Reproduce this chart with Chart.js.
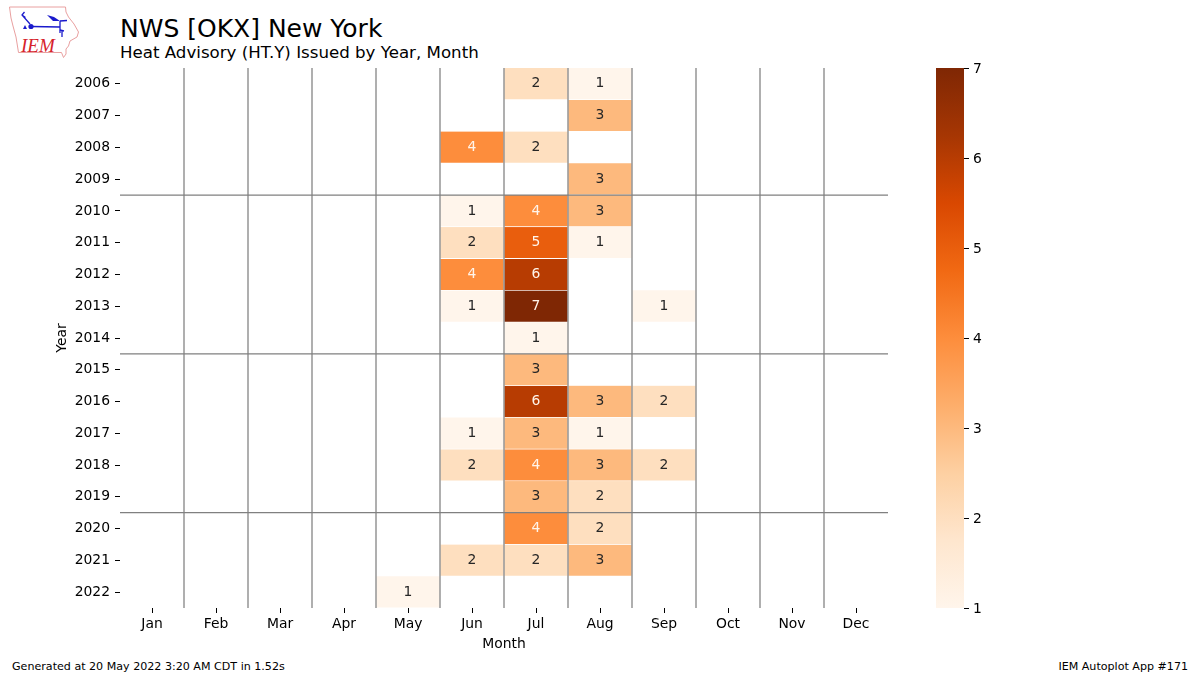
<!DOCTYPE html>
<html>
<head>
<meta charset="utf-8">
<title>Heat Advisory by Year, Month</title>
<script src="https://cdn.jsdelivr.net/npm/chart.js@4/dist/chart.umd.min.js"></script>
<style>
    html, body { margin: 0; padding: 0; background: #fff; }
    body { width: 1200px; height: 675px; overflow: hidden; position: relative; font-family: "DejaVu Sans", sans-serif; }
    canvas { position: absolute; top: 0; }
    .txt { position: absolute; white-space: nowrap; color: #000; line-height: 1; }
    #logo { position: absolute; left: 0; top: 0; }
</style>
</head>
<body>

<svg id="logo" width="90" height="64" viewBox="0 0 90 64">
    <path d="M9.5 7 L65.5 7 L66 12 L68.5 17 L74 24 L78.5 32 L77 37 L70 41 L68.5 46 L66 49 L66 54 L63.5 57.5 L61.5 52.5 L18.5 52.5 L16 37 L13 26 L11 18 Z"
          fill="none" stroke="#e9a0a0" stroke-width="1"/>
    <g stroke="#1a1acc" stroke-width="1.3" fill="none">
        <path d="M31 26.5 L60 27 M60 21 L60 33 M60 21 L67 20.5"/>
        <path d="M30 24 L22 15 L24.5 12 M22 15 L25.5 17.5"/>
        <path d="M60 30 L64 31 M62 30 L62 37"/>
    </g>
    <circle cx="31" cy="26.5" r="2.6" fill="#1a1acc"/>
    <path d="M47 15 L54 17 L60 21 L53 21 Z" fill="#1a1acc"/>
    <path d="M23 29 L25 25 L27 29 Z" fill="#1a1acc"/>
    <text x="21" y="51.5" font-family="Liberation Serif" font-style="italic" font-size="19" fill="#d6222a">IEM</text>
</svg>

<div class="txt" style="left:120px;top:16px;font-size:25px;">NWS [OKX] New York</div>
<div class="txt" style="left:120px;top:45px;font-size:16.65px;">Heat Advisory (HT.Y) Issued by Year, Month</div>
<div class="txt" style="left:12px;top:661px;font-size:11.1px;">Generated at 20 May 2022 3:20 AM CDT in 1.52s</div>
<div class="txt" style="right:12px;top:661px;font-size:11.1px;">IEM Autoplot App #171</div>

<canvas id="heatmap" width="1200" height="675" style="left:0"></canvas>
<canvas id="colorbar" width="70" height="675" style="left:936px"></canvas>

<script>
// -------------------------
// DATA
// -------------------------

const months = ["Jan", "Feb", "Mar", "Apr", "May", "Jun", "Jul", "Aug", "Sep", "Oct", "Nov", "Dec"];
const years = ["2006", "2007", "2008", "2009", "2010", "2011", "2012", "2013", "2014", "2015", "2016", "2017", "2018", "2019", "2020", "2021", "2022"];

// one row per year, one column per month, 0 = nothing issued
const counts = [
    [0, 0, 0, 0, 0, 0, 2, 1, 0, 0, 0, 0],
    [0, 0, 0, 0, 0, 0, 0, 3, 0, 0, 0, 0],
    [0, 0, 0, 0, 0, 4, 2, 0, 0, 0, 0, 0],
    [0, 0, 0, 0, 0, 0, 0, 3, 0, 0, 0, 0],
    [0, 0, 0, 0, 0, 1, 4, 3, 0, 0, 0, 0],
    [0, 0, 0, 0, 0, 2, 5, 1, 0, 0, 0, 0],
    [0, 0, 0, 0, 0, 4, 6, 0, 0, 0, 0, 0],
    [0, 0, 0, 0, 0, 1, 7, 0, 1, 0, 0, 0],
    [0, 0, 0, 0, 0, 0, 1, 0, 0, 0, 0, 0],
    [0, 0, 0, 0, 0, 0, 3, 0, 0, 0, 0, 0],
    [0, 0, 0, 0, 0, 0, 6, 3, 2, 0, 0, 0],
    [0, 0, 0, 0, 0, 1, 3, 1, 0, 0, 0, 0],
    [0, 0, 0, 0, 0, 2, 4, 3, 2, 0, 0, 0],
    [0, 0, 0, 0, 0, 0, 3, 2, 0, 0, 0, 0],
    [0, 0, 0, 0, 0, 0, 4, 2, 0, 0, 0, 0],
    [0, 0, 0, 0, 0, 2, 2, 3, 0, 0, 0, 0],
    [0, 0, 0, 0, 1, 0, 0, 0, 0, 0, 0, 0]
];

const colorbarTicks = [1, 2, 3, 4, 5, 6, 7];
const decadeBreaks = ["2010", "2015", "2020"];

// -------------------------
// COLORS
// -------------------------

const orangeStops = ["#fff5eb", "#fee6ce", "#fdd0a2", "#fdae6b", "#fd8d3c", "#f16913", "#d94801", "#a63603", "#7f2704"];

function hexToRgb(hex) {
    return [1, 3, 5].map(i => parseInt(hex.slice(i, i + 2), 16));
}

function cellColor(value) {
    const t = (value - 1) / 6 * (orangeStops.length - 1);
    const i = Math.min(Math.floor(t), orangeStops.length - 2);
    const a = hexToRgb(orangeStops[i]);
    const b = hexToRgb(orangeStops[i + 1]);
    const rgb = a.map((c, k) => Math.round(c + (b[k] - c) * (t - i)));
    return `rgb(${rgb.join(",")})`;
}

// -------------------------
// HEATMAP
// -------------------------

const tickFont = { family: "DejaVu Sans", size: 13.9 };
const inkColor = "#262626";
const axisColor = "#000000";

// cell numbers and the gray separators, drawn on top of the bars
const cellOverlay = {
    id: "cellOverlay",
    afterDatasetsDraw(chart) {
        const { ctx, chartArea, scales } = chart;
        ctx.save();

        ctx.font = `${tickFont.size}px "${tickFont.family}"`;
        ctx.textAlign = "center";
        ctx.textBaseline = "middle";
        counts.forEach((row, r) => {
            const meta = chart.getDatasetMeta(r);
            row.forEach((value, m) => {
                if (!value) return;
                const center = meta.data[m].getCenterPoint();
                ctx.fillStyle = value >= 4 ? "#fff5eb" : inkColor;
                ctx.fillText(String(value), center.x, center.y);
            });
        });

        ctx.strokeStyle = "#808080";
        ctx.lineWidth = 1.25;
        ctx.beginPath();
        months.slice(1).forEach((_, i) => {
            const x = (scales.x.getPixelForValue(i) + scales.x.getPixelForValue(i + 1)) / 2;
            ctx.moveTo(x, chartArea.top);
            ctx.lineTo(x, chartArea.bottom);
        });
        decadeBreaks.forEach(year => {
            const y = scales.y.getPixelForValue(years.indexOf(year));
            ctx.moveTo(chartArea.left, y);
            ctx.lineTo(chartArea.right, y);
        });
        ctx.stroke();
        ctx.restore();
    }
};

new Chart(document.getElementById("heatmap"), {
    type: "bar",
    data: {
        labels: months,
        datasets: years.map((year, r) => ({
            label: year,
            data: counts[r].map(value => value ? [r, r + 1] : null),
            backgroundColor: counts[r].map(value => value ? cellColor(value) : "transparent"),
            borderColor: "#ffffff",
            borderWidth: 0.8,
            barPercentage: 1,
            categoryPercentage: 1
        }))
    },
    options: {
        responsive: false,
        animation: false,
        devicePixelRatio: 1,
        layout: { padding: { top: 68, right: 312, left: 0, bottom: 0 } },
        plugins: { legend: { display: false }, tooltip: { enabled: false } },
        datasets: { bar: { grouped: false } },
        scales: {
            x: {
                offset: true,
                afterFit: scale => { scale.height = 67; },
                border: { display: false },
                grid: { offset: false, drawOnChartArea: false, tickLength: 5, color: axisColor },
                ticks: { color: axisColor, font: tickFont, padding: 3, autoSkip: false, maxRotation: 0 },
                title: { display: true, text: "Month", color: axisColor, font: tickFont, padding: { top: 0, bottom: 22 } }
            },
            y: {
                type: "linear",
                min: 0,
                max: years.length,
                reverse: true,
                afterFit: scale => { scale.width = 120; },
                afterBuildTicks: scale => { scale.ticks = years.map((_, i) => ({ value: i + 0.5 })); },
                border: { display: false },
                grid: { drawOnChartArea: false, tickLength: 5, color: axisColor },
                ticks: {
                    color: axisColor,
                    font: tickFont,
                    padding: 5,
                    autoSkip: false,
                    callback: value => years[value - 0.5]
                },
                title: { display: true, text: "Year", color: axisColor, font: tickFont, padding: { top: 54, bottom: 0 } }
            }
        }
    },
    plugins: [cellOverlay]
});

// -------------------------
// COLORBAR
// -------------------------

function colorbarFill(context) {
    const area = context.chart.chartArea;
    if (!area) return orangeStops[0];
    const gradient = context.chart.ctx.createLinearGradient(0, area.bottom, 0, area.top);
    orangeStops.forEach((color, i) => gradient.addColorStop(i / (orangeStops.length - 1), color));
    return gradient;
}

new Chart(document.getElementById("colorbar"), {
    type: "bar",
    data: {
        labels: ["count"],
        datasets: [{
            data: [[colorbarTicks[0], colorbarTicks[colorbarTicks.length - 1]]],
            backgroundColor: colorbarFill,
            barPercentage: 1,
            categoryPercentage: 1
        }]
    },
    options: {
        responsive: false,
        animation: false,
        devicePixelRatio: 1,
        layout: { padding: { top: 68, bottom: 67, left: 0, right: 0 } },
        plugins: { legend: { display: false }, tooltip: { enabled: false } },
        scales: {
            x: { display: false },
            y: {
                position: "right",
                min: colorbarTicks[0],
                max: colorbarTicks[colorbarTicks.length - 1],
                afterFit: scale => { scale.width = 42; },
                afterBuildTicks: scale => { scale.ticks = colorbarTicks.map(value => ({ value })); },
                border: { display: false },
                grid: { drawOnChartArea: false, tickLength: 5, color: axisColor },
                ticks: { color: axisColor, font: tickFont, padding: 4, labelOffset: 1 }
            }
        }
    }
});
</script>
</body>
</html>
